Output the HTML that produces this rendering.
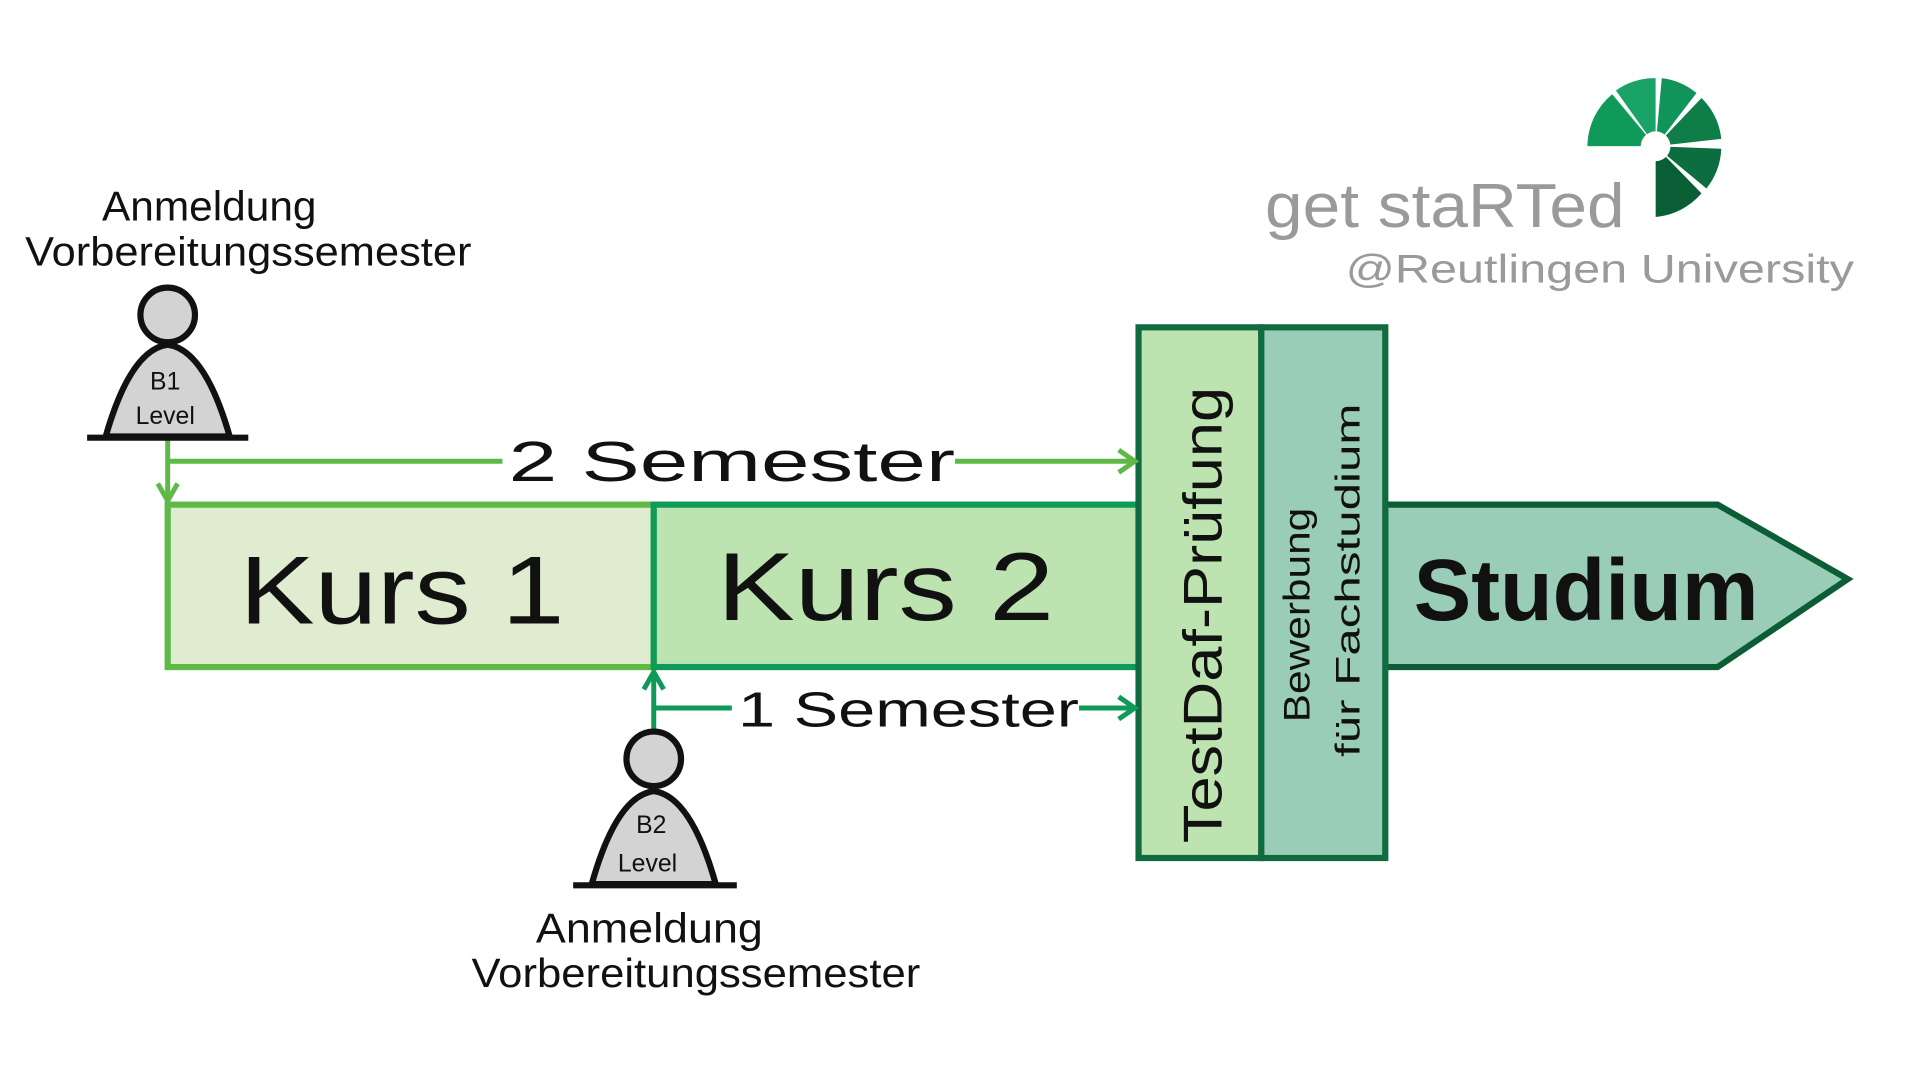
<!DOCTYPE html>
<html><head><meta charset="utf-8"><style>
html,body{margin:0;padding:0;background:#fff;}
svg{display:block}
text{font-family:"Liberation Sans",sans-serif;}
</style></head><body>
<svg width="1920" height="1075" viewBox="0 0 1548 867" xmlns="http://www.w3.org/2000/svg">
<!-- logo -->
<g>
<path d="M1335,118 L1280,118 A55,55 0 0 1 1300,76 Z" fill="#0f9a5a"/>
<path d="M1335,118 L1303,73 A55,55 0 0 1 1335,63 Z" fill="#1aa366"/>
<path d="M1335,118 L1340,63 A55,55 0 0 1 1368,75 Z" fill="#10945a"/>
<path d="M1335,118 L1372,79 A55,55 0 0 1 1388,112 Z" fill="#0e7d48"/>
<path d="M1335,118 L1388,120 A55,55 0 0 1 1376,152 Z" fill="#0c6e40"/>
<path d="M1335,118 L1372,156 A55,55 0 0 1 1335,175 Z" fill="#0a5e36"/>
<rect x="1280" y="118" width="55" height="60" fill="#fff"/>
<circle cx="1335" cy="118" r="12" fill="#fff"/>
</g>
<text x="1020" y="183" font-size="50" fill="#9a9a9a" textLength="290" lengthAdjust="spacingAndGlyphs">get staRTed</text>
<text x="1085" y="228" font-size="32" fill="#9a9a9a" textLength="410" lengthAdjust="spacingAndGlyphs">@Reutlingen University</text>

<!-- boxes -->
<rect x="135" y="407" width="392" height="131" fill="#dfeccf" stroke="#5fb946" stroke-width="5"/>
<rect x="527" y="407" width="391" height="131" fill="#bde3b0" stroke="#0f9a5a" stroke-width="5"/>
<path d="M1117,407 L1385,407 L1490,467 L1385,538 L1117,538 Z" fill="#99cdb7" stroke="#0c5d36" stroke-width="5"/>
<rect x="918" y="264" width="99" height="428" fill="#bde3b0" stroke="#126b3f" stroke-width="5"/>
<rect x="1017" y="264" width="100" height="428" fill="#99cdb7" stroke="#126b3f" stroke-width="5"/>

<text x="193" y="503" font-size="78" fill="#111" textLength="262" lengthAdjust="spacingAndGlyphs">Kurs 1</text>
<text x="578" y="500" font-size="78" fill="#111" textLength="272" lengthAdjust="spacingAndGlyphs">Kurs 2</text>
<text x="1140" y="500" font-size="70" font-weight="bold" fill="#111" textLength="278" lengthAdjust="spacingAndGlyphs">Studium</text>
<text transform="translate(985,496) rotate(-90)" text-anchor="middle" font-size="44" fill="#111" textLength="368" lengthAdjust="spacingAndGlyphs">TestDaf-Prüfung</text>
<text transform="translate(1056,496) rotate(-90)" text-anchor="middle" font-size="30" fill="#111" textLength="173" lengthAdjust="spacingAndGlyphs">Bewerbung</text>
<text transform="translate(1096,468) rotate(-90)" text-anchor="middle" font-size="28" fill="#111" textLength="285" lengthAdjust="spacingAndGlyphs">für      Fachstudium</text>

<!-- 2 semester -->
<g stroke="#5fb946" stroke-width="4" fill="none">
<path d="M135,353 L135,403"/>
<path d="M127,390 L135,404 L143,390"/>
<path d="M135,372 L405,372"/>
<path d="M770,372 L914,372"/>
<path d="M902,363 L915,372 L902,381"/>
</g>
<text x="410" y="388" font-size="46" fill="#111" textLength="360" lengthAdjust="spacingAndGlyphs">2 Semester</text>
<!-- 1 semester -->
<g stroke="#0f9a5a" stroke-width="4" fill="none">
<path d="M527,590 L527,542"/>
<path d="M519,556 L527,542 L535,556"/>
<path d="M527,571 L590,571"/>
<path d="M870,571 L914,571"/>
<path d="M902,562 L915,571 L902,580"/>
</g>
<text x="595" y="586" font-size="40" fill="#111" textLength="275" lengthAdjust="spacingAndGlyphs">1 Semester</text>

<!-- person B1 -->
<g stroke="#111" stroke-width="5" fill="#d3d3d3">
<circle cx="135" cy="254" r="22"/>
<path d="M85,352 Q105,282 135,278 Q165,282 185,352 Z"/>
<path d="M70,353 L200,353" fill="none"/>
</g>
<text x="133" y="314" font-size="20" text-anchor="middle" fill="#111">B1</text>
<text x="133" y="342" font-size="20" text-anchor="middle" fill="#111">Level</text>
<!-- person B2 -->
<g stroke="#111" stroke-width="5" fill="#d3d3d3">
<circle cx="527" cy="612" r="22"/>
<path d="M477,713 Q497,642 527,638 Q557,642 577,713 Z"/>
<path d="M462,714 L594,714" fill="none"/>
</g>
<text x="525" y="672" font-size="20" text-anchor="middle" fill="#111">B2</text>
<text x="522" y="703" font-size="20" text-anchor="middle" fill="#111">Level</text>

<text x="82" y="178" font-size="34" fill="#111" textLength="173" lengthAdjust="spacingAndGlyphs">Anmeldung</text>
<text x="20" y="214" font-size="33" fill="#111" textLength="360" lengthAdjust="spacingAndGlyphs">Vorbereitungssemester</text>
<text x="432" y="760" font-size="34" fill="#111" textLength="183" lengthAdjust="spacingAndGlyphs">Anmeldung</text>
<text x="380" y="796" font-size="33" fill="#111" textLength="362" lengthAdjust="spacingAndGlyphs">Vorbereitungssemester</text>
</svg>
</body></html>
